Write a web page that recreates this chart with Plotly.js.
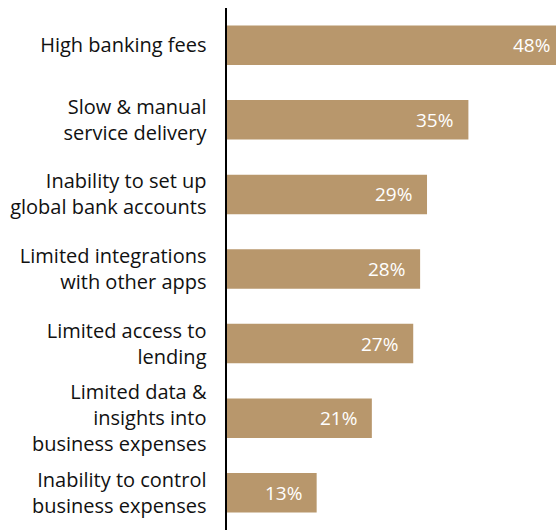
<!DOCTYPE html>
<html><head><meta charset="utf-8">
<script src="https://cdn.plot.ly/plotly-3.0.1.min.js"></script>
<style>html,body{margin:0;padding:0;background:#fff}#chart{width:556px;height:530px}</style>
</head><body><div id="chart"></div>
<script>
const categories = [
  "High banking fees",
  "Slow & manual<br>service delivery",
  "Inability to set up<br>global bank accounts",
  "Limited integrations<br>with other apps",
  "Limited access to<br>lending",
  "Limited data &<br>insights into<br>business expenses",
  "Inability to control<br>business expenses"
];
const values = [48, 35, 29, 28, 27, 21, 13];
const valueLabels = values.map(v => v + "%");

const FONT = "'Open Sans', sans-serif";

const trace = {
  type: "bar",
  orientation: "h",
  x: values,
  y: categories,
  marker: {color: "#b8976c"},
  width: 0.53,
  hoverinfo: "none",
  cliponaxis: true
};

const annotations = values.map((v, i) => ({
  x: Math.min(v, 47.7),
  y: categories[i],
  xref: "x", yref: "y",
  text: valueLabels[i],
  showarrow: false,
  xanchor: "right",
  xshift: v >= 47.7 ? -4 : -13,
  font: {family: FONT, size: 19, color: "#ffffff"}
}));

const layout = {
  width: 556, height: 530,
  margin: {l: 227, r: 0, t: 8, b: 0, pad: 0},
  paper_bgcolor: "#ffffff",
  plot_bgcolor: "#ffffff",
  showlegend: false,
  font: {family: FONT, size: 20, color: "#111111"},
  xaxis: {range: [0, 47.7], visible: false, fixedrange: true},
  yaxis: {
    autorange: "reversed",
    showline: true, linecolor: "#000000", linewidth: 2.5,
    showgrid: false, zeroline: false,
    ticks: "", ticklabelstandoff: 14,
    tickfont: {family: FONT, size: 20, color: "#111111"},
    fixedrange: true
  },
  annotations: annotations
};

Plotly.newPlot("chart", [trace], layout, {displayModeBar: false, staticPlot: true});
</script>
</body></html>
